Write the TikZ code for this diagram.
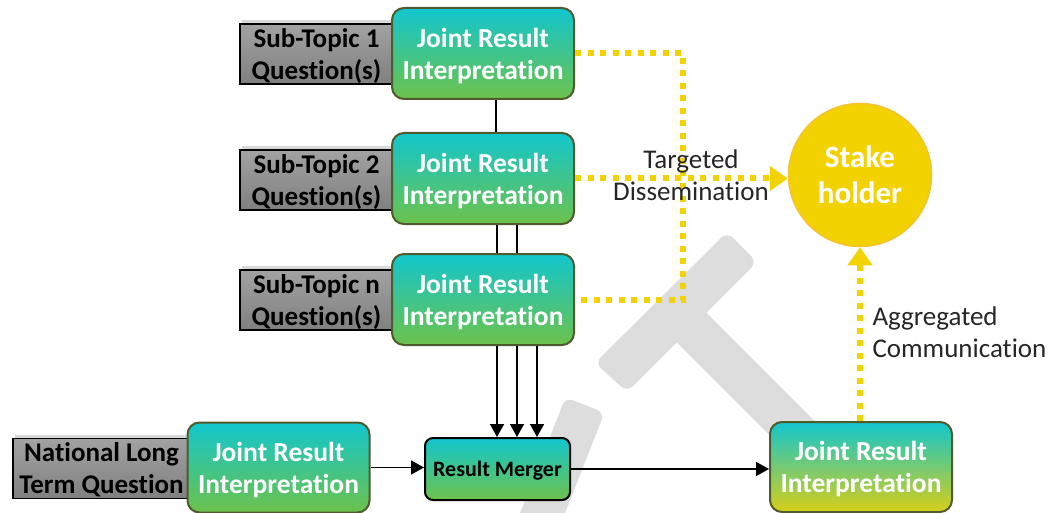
\documentclass[tikz,border=0pt]{standalone}
\usepackage{fontspec}
\setmainfont{Carlito}[Ligatures=NoCommon]
\usetikzlibrary{arrows.meta,shadows}

\definecolor{cyantop}{HTML}{12C6CE}
\definecolor{greenbot}{HTML}{6DC24B}
\definecolor{yellowbot}{HTML}{D8CE18}
\definecolor{boxedge}{HTML}{4E5B2C}
\definecolor{gold}{HTML}{F2D200}
\definecolor{goldedge}{HTML}{F4C232}
\definecolor{qtop}{HTML}{A2A2A2}
\definecolor{qbot}{HTML}{808080}
\definecolor{wmark}{HTML}{DDDDDD}

\tikzstyle{interp}=[rectangle, rounded corners=12, draw=boxedge, line width=2,
                    top color=cyantop, bottom color=greenbot, text=white,
                    font=\fontsize{27.5}{32}\selectfont\bfseries, align=center,
                    text depth=0pt, minimum width=182, minimum height=91]
\tikzstyle{question}=[rectangle, draw=black, line width=1.2,
                      top color=qtop, bottom color=qbot,
                      font=\fontsize{27}{32}\selectfont\bfseries, align=center,
                      text depth=0pt, minimum height=60,
                      drop shadow={opacity=0.3, shadow xshift=2, shadow yshift=-4}]
\tikzstyle{lbl}=[font=\fontsize{27}{32}\selectfont, text=black!85]
\tikzstyle{link}=[line width=1.5, -{Triangle[length=13pt, width=14pt]}]
\tikzstyle{dissem}=[gold, line width=6, dash pattern=on 6pt off 6.5pt]

\begin{document}
\begin{tikzpicture}[x=1pt, y=-1pt]
\useasboundingbox (0, 0) rectangle (1051, 513);

%%%%%%%%%%%%%%%%%%%%%%%%%%%%%%
% background mark

\fill[wmark, rounded corners=8] (595, 363) -- (727, 232) -- (757, 262) -- (627, 392) -- cycle;
\draw[wmark, line width=42] (676, 312) -- (850, 486);
\fill[wmark, rounded corners=8] (565.5, 397.3) -- (604.5, 412.7) -- (549.5, 552.7) -- (510.5, 537.3) -- cycle;

%%%%%%%%%%%%%%%%%%%%%%%%%%%%%%
% nodes

% sub-topics
\node (q_1) at (316.5, 54) [question, minimum width=153] {Sub-Topic 1\\Question(s)};
\node (jri_1) at (483, 53.5) [interp] {Joint Result\\Interpretation};

\node (q_2) at (316.5, 180) [question, minimum width=153] {Sub-Topic 2\\Question(s)};
\node (jri_2) at (483, 178.5) [interp] {Joint Result\\Interpretation};

\node (q_n) at (316.5, 300) [question, minimum width=153] {Sub-Topic n\\Question(s)};
\node (jri_n) at (483, 299.5) [interp] {Joint Result\\Interpretation};

% national
\node (q_nat) at (101.5, 468.5) [question, minimum width=177] {National Long\\Term Question};
\node (jri_nat) at (278.5, 467.5) [interp, minimum height=90] {Joint Result\\Interpretation};

% merger and output
\node (merger) at (497.5, 469) [interp, draw=black, rounded corners=8, text=black,
      font=\fontsize{22}{24}\selectfont\bfseries, minimum width=145, minimum height=62] {Result Merger};

\node (jri_out) at (861, 467) [interp, minimum height=90, middle color=greenbot,
      bottom color=yellowbot] {Joint Result\\Interpretation};

\node (stake) at (860, 175) [circle, fill=gold, draw=goldedge, line width=1.5,
      minimum size=143, text=white, font=\fontsize{31}{36}\selectfont\bfseries,
      align=center] {Stake\\holder};

%%%%%%%%%%%%%%%%%%%%%%%%%%%%%%
% links

% chain
\draw [line width=1.5] ([xshift=13]jri_1.south) -- ([xshift=13]jri_1.south |- jri_2.north);

\draw [line width=1.5] ([xshift=14]jri_2.south) -- ([xshift=14]jri_2.south |- jri_n.north);
\draw [line width=1.5] ([xshift=34]jri_2.south) -- ([xshift=34]jri_2.south |- jri_n.north);

\draw [link] ([xshift=14]jri_n.south) -- ([xshift=14]jri_n.south |- merger.north);
\draw [link] ([xshift=34]jri_n.south) -- ([xshift=34]jri_n.south |- merger.north);
\draw [link] ([xshift=54]jri_n.south) -- ([xshift=54]jri_n.south |- merger.north);

\draw [link] (jri_nat.east) -- (jri_nat.east -| merger.west);
\draw [link] (merger.east) -- (merger.east -| jri_out.west);

% dissemination
\coordinate (turn) at (683, 175);
\draw [dissem] (jri_1.east) -- (jri_1.east -| turn) -- (jri_n.east -| turn) -- (jri_n.east);
\draw [dissem, -{Triangle[length=18pt, width=24pt]}] (jri_2.east) -- (jri_2.east -| stake.west);
\node (lab_td) at (691, 175) [lbl, align=center] {Targeted\\Dissemination};

% communication
\draw [dissem, -{Triangle[length=18pt, width=24pt]}] (jri_out.north -| stake.south) -- (stake.south);
\node (lab_ac) at (869, 332) [lbl, anchor=west, align=left] {Aggregated\\Communication};

\end{tikzpicture}
\end{document}
